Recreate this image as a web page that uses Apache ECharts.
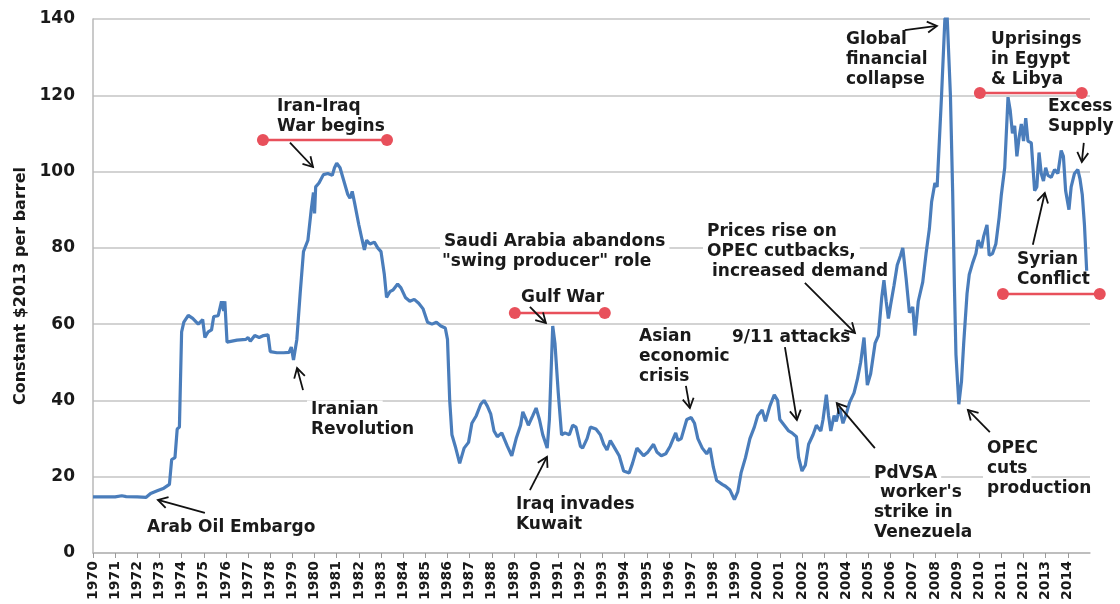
<!DOCTYPE html>
<html>
<head>
<meta charset="utf-8">
<script src="https://cdn.jsdelivr.net/npm/echarts@6/dist/echarts.min.js"></script>
<style>
html,body{margin:0;padding:0;background:#fff;}
#chart{width:1120px;height:604px;}
</style>
</head>
<body>
<div id="chart"></div>
<script>
// ---- DATA (decimal year, constant $2013 per barrel) ----
const years = [
1970.0,1970.5,1971.0,1971.3,1971.5,1972.0,1972.4,1972.6,1972.9,1973.2,1973.45,1973.55,1973.7,1973.8,1973.9,
1974.0,1974.1,1974.3,1974.5,1974.75,1974.95,1975.05,1975.2,1975.35,1975.45,1975.65,1975.8,1975.9,1975.95,
1976.05,1976.5,1976.9,1977.0,1977.1,1977.3,1977.5,1977.7,1977.9,1978.0,1978.3,1978.6,1978.85,1978.95,1979.05,
1979.2,1979.35,1979.5,1979.7,1979.85,1979.95,1980.0,1980.05,1980.2,1980.4,1980.6,1980.8,1980.9,1981.0,1981.15,
1981.3,1981.5,1981.6,1981.7,1981.8,1982.0,1982.15,1982.25,1982.35,1982.5,1982.7,1982.85,1983.0,1983.15,1983.25,
1983.4,1983.55,1983.75,1983.9,1984.1,1984.3,1984.5,1984.7,1984.9,1985.1,1985.3,1985.5,1985.7,1985.9,1986.0,
1986.1,1986.2,1986.35,1986.55,1986.75,1986.95,1987.1,1987.3,1987.5,1987.65,1987.8,1987.95,1988.1,1988.25,1988.45,
1988.7,1988.9,1989.1,1989.3,1989.4,1989.55,1989.65,1989.85,1990.0,1990.15,1990.3,1990.5,1990.6,1990.75,1990.85,
1991.0,1991.15,1991.3,1991.5,1991.65,1991.8,1992.0,1992.1,1992.3,1992.45,1992.7,1992.9,1993.05,1993.2,1993.35,
1993.55,1993.75,1993.95,1994.2,1994.35,1994.55,1994.7,1994.85,1995.05,1995.3,1995.45,1995.65,1995.85,1996.05,
1996.3,1996.4,1996.55,1996.8,1997.0,1997.15,1997.3,1997.5,1997.7,1997.85,1998.0,1998.15,1998.4,1998.55,1998.75,
1998.95,1999.1,1999.25,1999.45,1999.65,1999.85,2000.0,2000.2,2000.35,2000.55,2000.75,2000.9,2001.0,2001.2,2001.4,
2001.55,2001.75,2001.85,2002.0,2002.15,2002.3,2002.5,2002.65,2002.85,2002.95,2003.1,2003.2,2003.3,2003.45,2003.55,
2003.7,2003.85,2004.0,2004.15,2004.35,2004.5,2004.65,2004.8,2004.95,2005.1,2005.3,2005.45,2005.6,2005.7,2005.8,
2005.9,2006.0,2006.15,2006.3,2006.45,2006.55,2006.7,2006.85,2007.0,2007.1,2007.25,2007.45,2007.6,2007.75,2007.85,
2008.0,2008.1,2008.2,2008.3,2008.45,2008.55,2008.7,2008.8,2008.88,2008.95,2009.08,2009.2,2009.3,2009.45,2009.55,
2009.7,2009.85,2009.95,2010.1,2010.2,2010.35,2010.45,2010.6,2010.75,2010.9,2011.0,2011.15,2011.3,2011.4,2011.5,
2011.6,2011.7,2011.8,2011.9,2012.0,2012.1,2012.2,2012.35,2012.5,2012.6,2012.7,2012.8,2012.9,2013.0,2013.1,
2013.25,2013.4,2013.55,2013.7,2013.8,2013.9,2014.05,2014.15,2014.3,2014.45,2014.55,2014.65,2014.75,2014.85
];
const prices = [
14.7,14.7,14.7,15.0,14.8,14.7,14.6,15.6,16.3,17.0,18.0,24.5,25.0,32.5,33.0,
58.0,60.5,62.3,61.5,60.0,61.2,56.5,58.0,58.5,62.0,62.2,66.0,63.5,66.0,
55.3,55.8,56.0,56.5,55.5,57.0,56.5,57.0,57.2,52.8,52.5,52.5,52.6,54.0,50.6,
56.0,68.0,79.0,82.0,90.0,94.5,89.0,96.0,97.0,99.2,99.5,99.0,101.0,102.2,101.0,
98.0,94.0,93.0,94.8,92.0,86.0,82.0,79.5,82.0,81.0,81.5,80.0,79.0,73.0,67.0,
68.5,69.0,70.5,69.5,67.0,66.0,66.5,65.5,64.0,60.5,60.0,60.5,59.5,59.0,56.0,
40.0,31.0,28.0,23.5,27.5,29.0,34.0,36.0,39.0,40.0,38.5,36.5,32.0,30.5,31.5,
28.0,25.5,30.0,33.5,37.0,35.0,33.5,36.0,38.0,35.0,31.0,27.5,35.0,59.5,55.0,
42.0,31.0,31.5,31.0,33.5,33.0,28.0,27.5,30.0,33.0,32.5,31.0,28.5,27.0,29.5,
27.5,25.5,21.5,21.0,23.5,27.5,26.5,25.5,26.5,28.5,26.5,25.5,26.0,28.0,
31.5,29.5,30.0,35.0,35.5,34.0,30.0,27.5,26.0,27.5,22.5,19.0,18.0,17.5,16.5,
14.0,16.0,21.0,25.0,30.0,33.0,36.0,37.5,34.5,38.5,41.5,40.0,35.0,33.5,32.0,
31.5,30.5,25.0,21.5,23.0,28.5,31.0,33.5,32.0,35.0,41.5,36.0,32.0,36.0,34.5,
38.0,34.0,36.5,39.5,42.0,45.5,50.0,56.5,44.0,47.0,55.0,57.0,67.0,71.5,66.0,
61.5,65.0,70.0,75.5,78.0,80.0,72.0,63.0,64.5,57.0,66.0,71.0,78.5,85.0,92.0,
97.0,96.0,108.0,120.0,140.0,141.0,120.0,95.0,70.0,52.0,39.0,45.0,55.0,68.0,73.0,
76.0,78.5,82.0,80.0,83.0,86.0,78.0,78.5,81.0,88.0,94.0,101.0,119.5,116.0,110.0,
112.0,104.0,109.0,112.5,108.0,114.0,108.0,107.5,95.0,96.0,105.0,99.5,97.5,101.0,99.0,
98.5,100.5,99.5,105.5,104.0,95.0,90.0,96.0,99.5,100.5,98.0,94.0,86.0,74.0
];
const yearMin = 1970, yearMax = 2015;
const valueMin = 0, valueMax = 140, valueStep = 20;
const axisTitle = 'Constant $2013 per barrel';

// ---- ANNOTATIONS ----
// event periods (red bars): [startYear, endYear, value]
const periods = [
  [1977.67, 1983.27, 108.3],
  [1989.04, 1993.10, 62.9],
  [2010.03, 2014.63, 120.6],
  [2011.07, 2015.44, 67.9]
];
// arrows: [fromYear, fromValue, toYear, toValue]
const arrows = [
  [1978.89, 107.6, 1979.93, 101.2],
  [1979.48, 42.7, 1979.21, 48.5],
  [1975.05, 10.5, 1972.93, 13.9],
  [1989.72, 64.5, 1990.44, 60.3],
  [1989.72, 16.5, 1990.49, 25.2],
  [1996.76, 43.8, 1996.94, 38.0],
  [2001.23, 54.0, 2001.77, 34.9],
  [2002.13, 70.8, 2004.39, 57.7],
  [2005.29, 27.5, 2003.57, 39.3],
  [2010.48, 31.7, 2009.49, 37.5],
  [2006.64, 137.1, 2008.09, 138.2],
  [2014.72, 107.5, 2014.63, 102.5],
  [2012.42, 80.8, 2012.96, 94.4]
];
// text lines (pixel layout): [text, left, centerY]
const labels = [
  ['Iran-Iraq', 273, 107], ['War begins', 273, 127],
  ['Iranian', 307, 410], ['Revolution', 307, 430],
  ['Arab Oil Embargo', 143, 528],
  ['Saudi Arabia abandons', 440, 242], ['"swing producer" role', 438, 262],
  ['Gulf War', 517, 298],
  ['Iraq invades', 512, 505], ['Kuwait', 512, 525],
  ['Asian', 635, 337], ['economic', 635, 357], ['crisis', 635, 377],
  ['9/11 attacks', 728, 338],
  ['Prices rise on', 703, 232], ['OPEC cutbacks,', 703, 252], ['increased demand', 708, 272],
  ['PdVSA', 870, 474], ['worker\'s', 876, 493], ['strike in', 870, 513], ['Venezuela', 870, 533],
  ['OPEC', 983, 449], ['cuts', 983, 469], ['production', 983, 489],
  ['Global', 842, 40], ['financial', 842, 60], ['collapse', 842, 80],
  ['Uprisings', 987, 40], ['in Egypt', 987, 60], ['& Libya', 987, 80],
  ['Excess', 1044, 107], ['Supply', 1044, 127],
  ['Syrian', 1013, 260], ['Conflict', 1013, 280]
];

const FONT = '"DejaVu Sans", "Liberation Sans", Arial, sans-serif';
const chart = echarts.init(document.getElementById('chart'), null, {renderer: 'canvas'});

const seriesData = years.map((y, i) => [y, prices[i]]);

chart.setOption({
  animation: false,
  backgroundColor: '#ffffff',
  grid: {left: 93, right: 30, top: 19, bottom: 51, containLabel: false},
  xAxis: {
    type: 'value', min: yearMin, max: yearMax, interval: 1,
    axisLine: {show: true, lineStyle: {color: '#b8b8b8', width: 1.5}},
    axisTick: {show: true, length: 5, lineStyle: {color: '#9a9a9a', width: 1}},
    splitLine: {show: false},
    axisLabel: {
      rotate: 90, margin: 8, color: '#1a1a1a', fontFamily: FONT, fontWeight: 'bold', fontSize: 14,
      showMaxLabel: false,
      formatter: v => (v < yearMax ? String(v) : '')
    }
  },
  yAxis: {
    type: 'value', min: valueMin, max: valueMax, interval: valueStep,
    name: axisTitle, nameLocation: 'middle', nameGap: 62,
    nameTextStyle: {color: '#1a1a1a', fontFamily: FONT, fontWeight: 'bold', fontSize: 16},
    axisLine: {show: true, lineStyle: {color: '#b8b8b8', width: 1.5}},
    axisTick: {show: false},
    splitLine: {show: true, lineStyle: {color: '#c4c4c4', width: 1.5}},
    axisLabel: {margin: 18, color: '#1a1a1a', fontFamily: FONT, fontWeight: 'bold', fontSize: 17}
  },
  series: [{
    type: 'line', data: seriesData, showSymbol: false, symbol: 'none',
    lineStyle: {color: '#4a7dbb', width: 3.2}, z: 3, clip: true
  }]
});

function px(x, y) { return chart.convertToPixel({gridIndex: 0}, [x, y]); }

const graphics = [];
labels.forEach(([t, x, y]) => {
  graphics.push({
    type: 'text', x: x, y: y, z: 1, silent: true,
    style: {
      text: t, fill: '#1a1a1a', font: 'bold 17px ' + FONT,
      textVerticalAlign: 'middle', verticalAlign: 'middle',
      backgroundColor: '#ffffff', padding: [1, 4]
    }
  });
});
periods.forEach(([a, b, v]) => {
  const p1 = px(a, v), p2 = px(b, v);
  graphics.push({type: 'line', z: 10, shape: {x1: p1[0], y1: p1[1], x2: p2[0], y2: p2[1]},
    style: {stroke: '#e8505b', lineWidth: 2.5}});
  [p1, p2].forEach(p => graphics.push({type: 'circle', z: 11, shape: {cx: p[0], cy: p[1], r: 6},
    style: {fill: '#e8505b', stroke: null}}));
});
arrows.forEach(([x1, y1, x2, y2]) => {
  const a = px(x1, y1), b = px(x2, y2);
  const ang = Math.atan2(b[1] - a[1], b[0] - a[0]);
  const L = 11, spread = Math.PI / 6;
  const h1 = [b[0] - L * Math.cos(ang - spread), b[1] - L * Math.sin(ang - spread)];
  const h2 = [b[0] - L * Math.cos(ang + spread), b[1] - L * Math.sin(ang + spread)];
  graphics.push({type: 'line', z: 10, shape: {x1: a[0], y1: a[1], x2: b[0], y2: b[1]},
    style: {stroke: '#111', lineWidth: 1.8}});
  graphics.push({type: 'polyline', z: 10, shape: {points: [h1, b, h2]},
    style: {stroke: '#111', lineWidth: 1.8, fill: null}});
});
chart.setOption({graphic: {elements: graphics}});
</script>
</body>
</html>
